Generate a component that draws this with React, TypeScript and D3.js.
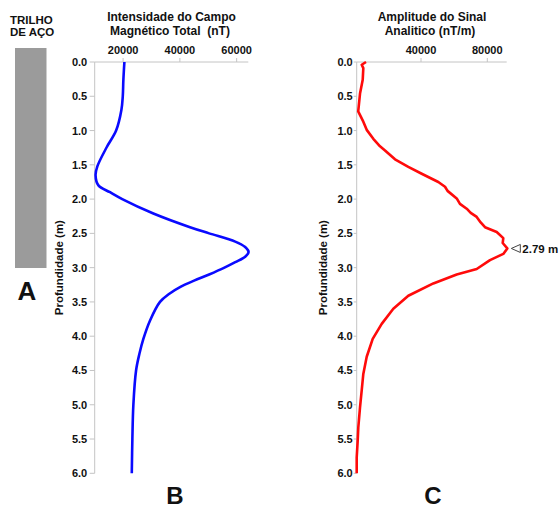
import { useEffect, useRef } from "react"
import * as d3 from "d3"

// Panel B - total magnetic field intensity (nT) vs depth (m)
const depthB = [0, 0.26, 0.5, 0.7, 1.0, 1.24, 1.52, 1.65, 1.8, 1.9, 2.0, 2.21, 2.41, 2.5, 2.62, 2.7, 2.77, 2.84, 2.92, 3.0, 3.1, 3.19, 3.28, 3.38, 3.5, 3.77, 4.04, 4.26, 4.5, 5.0, 5.5, 6.0]
const fieldB = [20460, 20100, 19890, 19400, 17540, 14270, 10960, 10300, 11310, 15400, 19700, 30660, 43570, 50300, 59500, 63000, 64200, 63000, 59500, 55700, 50300, 45000, 40200, 36300, 33000, 29500, 27140, 25730, 24570, 23620, 23270, 23060]

// Panel C - analytic signal amplitude (nT/m) vs depth (m)
const depthC = [0, 0.04, 0.09, 0.26, 0.46, 0.65, 0.72, 0.87, 0.99, 1.12, 1.23, 1.29, 1.42, 1.53, 1.63, 1.75, 1.82, 1.88, 1.99, 2.07, 2.14, 2.2, 2.26, 2.34, 2.41, 2.48, 2.57, 2.64, 2.72, 2.8, 2.89, 3.02, 3.1, 3.23, 3.41, 3.6, 3.82, 4.04, 4.3, 4.55, 4.79, 5.04, 5.33, 5.52, 5.77, 6.0]
const signalC = [6820, 4220, 5190, 4830, 3200, 2410, 2100, 5190, 7240, 11220, 15260, 18280, 24310, 32340, 40420, 50440, 54480, 56000, 61540, 63500, 67570, 70000, 73600, 76000, 78610, 85670, 89650, 89290, 92070, 89650, 81620, 73600, 61540, 47420, 32340, 23290, 16290, 10860, 7240, 5190, 4220, 3200, 2170, 1810, 1200, 1200]

const depthTicks = [0, 0.5, 1, 1.5, 2, 2.5, 3, 3.5, 4, 4.5, 5, 5.5, 6]
const ticksB = [20000, 40000, 60000]
const ticksC = [40000, 80000]
const peakLabel = "2.79 m"

const W = 560
const H = 511
const FONT = "'Liberation Sans', Arial, sans-serif"
const AXIS = "#c4c4c4"
const INK = "#111"

export default function App() {
  const ref = useRef<SVGSVGElement>(null)

  useEffect(() => {
    if (!ref.current) return
    const svg = d3.select(ref.current)
    svg.selectAll("*").remove()

    const y = d3.scaleLinear().domain([0, 6]).range([62, 473.3])

    const txt = (x: number, yy: number, s: string, size: number, anchor = "start") =>
      svg
        .append("text")
        .attr("x", x)
        .attr("y", yy)
        .attr("text-anchor", anchor)
        .attr("font-family", FONT)
        .attr("font-weight", 700)
        .attr("font-size", size)
        .attr("fill", INK)
        .style("white-space", "pre")
        .text(s)

    // Panel A - steel rail
    svg.append("rect").attr("x", 15).attr("y", 48).attr("width", 31.5).attr("height", 220).attr("fill", "#9b9b9b")
    txt(10, 24, "TRILHO", 11.5)
    txt(10, 36, "DE AÇO", 11.5)
    txt(27, 300, "A", 26, "middle")

    function panel(
      x: d3.ScaleLinear<number, number>,
      xTicks: number[],
      depth: number[],
      vals: number[],
      color: string,
      curve: d3.CurveFactory,
      tickLen: number,
      labelGap: number,
      titleX: number
    ) {
      const [x0, x1] = x.range()
      const g = svg.append("g")
      // top axis
      g.append("line").attr("x1", x0).attr("x2", x1).attr("y1", y(0)).attr("y2", y(0)).attr("stroke", AXIS)
      g.selectAll(".tx")
        .data(xTicks)
        .join("line")
        .attr("x1", (t) => x(t))
        .attr("x2", (t) => x(t))
        .attr("y1", y(0) - 4)
        .attr("y2", y(0))
        .attr("stroke", AXIS)
      g.selectAll(".txl")
        .data(xTicks)
        .join("text")
        .attr("x", (t) => x(t))
        .attr("y", 53.5)
        .attr("text-anchor", "middle")
        .attr("font-family", FONT)
        .attr("font-weight", 700)
        .attr("font-size", 11)
        .attr("fill", INK)
        .text((t) => String(t))
      // left axis
      g.append("line").attr("x1", x0).attr("x2", x0).attr("y1", y(0)).attr("y2", y(6)).attr("stroke", AXIS)
      g.selectAll(".ty")
        .data(depthTicks)
        .join("line")
        .attr("x1", x0 - tickLen)
        .attr("x2", x0)
        .attr("y1", (t) => y(t))
        .attr("y2", (t) => y(t))
        .attr("stroke", AXIS)
      g.selectAll(".tyl")
        .data(depthTicks)
        .join("text")
        .attr("x", x0 - labelGap)
        .attr("y", (t) => y(t))
        .attr("dy", "0.36em")
        .attr("text-anchor", "end")
        .attr("font-family", FONT)
        .attr("font-weight", 700)
        .attr("font-size", 11)
        .attr("fill", INK)
        .text((t) => t.toFixed(1))
      g.append("text")
        .attr("transform", `translate(${titleX}, ${y(3)}) rotate(-90)`)
        .attr("dy", "0.36em")
        .attr("text-anchor", "middle")
        .attr("font-family", FONT)
        .attr("font-weight", 700)
        .attr("font-size", 11.5)
        .attr("fill", INK)
        .text("Profundidade (m)")

      const line = d3
        .line<number>()
        .x((v) => x(v))
        .y((_, i) => y(depth[i]))
        .curve(curve)
      g.append("path")
        .datum(vals)
        .attr("d", line)
        .attr("fill", "none")
        .attr("stroke", color)
        .attr("stroke-width", 2.6)
        .attr("stroke-linejoin", "round")
    }

    // Panel B
    const xB = d3.scaleLinear().domain([10000, 64100]).range([94.7, 248.3])
    panel(xB, ticksB, depthB, fieldB, "#0a0aff", d3.curveCatmullRom, 5, 7.5, 59)
    txt(171.5, 21, "Intensidade do Campo", 12, "middle")
    txt(170, 35, "Magnético Total  (nT)", 12, "middle")
    txt(175, 504, "B", 24, "middle")

    // Panel C
    const xC = d3.scaleLinear().domain([1200, 91700]).range([356.7, 506.7])
    panel(xC, ticksC, depthC, signalC, "#ff0a0a", d3.curveLinear, 3, 4, 322.5)
    txt(432, 21, "Amplitude do Sinal", 12, "middle")
    txt(430, 35, "Analitico (nT/m)", 12, "middle")
    txt(433, 504, "C", 24, "middle")

    // peak marker
    const iPeak = d3.maxIndex(signalC)
    const px = xC(signalC[iPeak]) + 4
    const py = y(depthC[iPeak])
    svg
      .append("path")
      .attr("d", `M${px},${py} L${px + 9},${py - 4} L${px + 9},${py + 4} Z`)
      .attr("fill", "none")
      .attr("stroke", "#444")
      .attr("stroke-width", 1)
    txt(px + 11, py + 4.5, peakLabel, 11.5)
  }, [])

  return (
    <svg
      ref={ref}
      width={W}
      height={H}
      style={{ position: "absolute", left: 0, top: 0, background: "#fff", display: "block" }}
    />
  )
}
